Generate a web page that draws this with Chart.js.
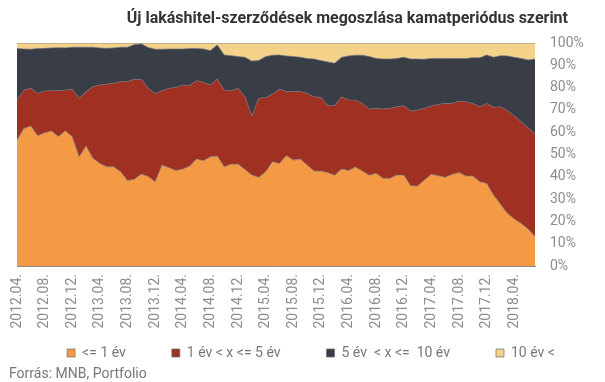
<!DOCTYPE html>
<html>
<head>
<meta charset="utf-8">
<script src="https://cdn.jsdelivr.net/npm/chart.js@4"></script>
<style>
  html, body { margin: 0; padding: 0; background: #fff; }
  #wrap { position: relative; width: 605px; height: 382px; }
  #title { position: absolute; right: 37px; top: 7px; font: bold 16px Roboto, sans-serif; line-height: 22px; color: #333; white-space: nowrap; }
  #source { position: absolute; left: 9px; top: 365px; font: 14px Roboto, sans-serif; line-height: 16px; color: #777; white-space: nowrap; }
</style>
</head>
<body>
<div id="wrap">
  <canvas id="c" width="605" height="382"></canvas>
  <div id="title">Új lakáshitel-szerződések megoszlása kamatperiódus szerint</div>
  <div id="source">Forrás: MNB, Portfolio</div>
</div>
<script>
const months = [
  "2012.04.","2012.05.","2012.06.","2012.07.","2012.08.","2012.09.","2012.10.","2012.11.","2012.12.",
  "2013.01.","2013.02.","2013.03.","2013.04.","2013.05.","2013.06.","2013.07.","2013.08.","2013.09.","2013.10.","2013.11.","2013.12.",
  "2014.01.","2014.02.","2014.03.","2014.04.","2014.05.","2014.06.","2014.07.","2014.08.","2014.09.","2014.10.","2014.11.","2014.12.",
  "2015.01.","2015.02.","2015.03.","2015.04.","2015.05.","2015.06.","2015.07.","2015.08.","2015.09.","2015.10.","2015.11.","2015.12.",
  "2016.01.","2016.02.","2016.03.","2016.04.","2016.05.","2016.06.","2016.07.","2016.08.","2016.09.","2016.10.","2016.11.","2016.12.",
  "2017.01.","2017.02.","2017.03.","2017.04.","2017.05.","2017.06.","2017.07.","2017.08.","2017.09.","2017.10.","2017.11.","2017.12.",
  "2018.01.","2018.02.","2018.03.","2018.04.","2018.05.","2018.06.","2018.07."
];

const seriesNames = ["<= 1 év", "1 év < x <= 5 év", "5 év  < x <=  10 év", "10 év <"];

const upTo1 = [
  56.5,61.7,62.8,58.4,59.8,60.5,58.0,60.7,58.0,49.0,53.8,48.3,46.0,44.5,44.5,42.3,38.3,38.9,41.3,40.1,
  37.8,45.3,44.1,42.8,43.5,44.8,48.0,47.2,49.0,49.3,44.5,45.7,45.7,43.3,40.8,39.8,42.3,46.8,46.0,
  49.5,47.5,48.0,45.3,42.6,42.6,41.9,40.7,43.5,42.8,44.4,42.6,40.7,41.6,39.3,39.3,40.8,40.8,
  36.0,35.9,38.6,41.1,40.5,39.8,41.1,41.9,40.4,40.4,37.8,37.1,31.8,27.7,23.6,21.1,19.1,16.6,13.2
];
const from1to5 = [
  17.9,17.2,16.9,19.0,18.7,18.1,20.6,18.2,21.2,26.2,24.4,32.1,35.2,37.1,37.4,40.4,44.4,44.8,42.4,39.6,
  39.6,33.3,35.6,37.3,37.7,36.1,35.1,35.2,32.2,34.6,34.4,32.9,34.0,32.6,26.5,35.4,33.3,30.3,33.4,
  28.7,30.7,30.2,32.1,33.3,33.0,30.0,31.2,32.4,31.6,30.0,30.3,29.6,29.1,31.1,31.4,30.6,31.1,
  33.5,34.1,32.1,30.6,32.0,33.1,31.8,32.1,33.3,32.5,33.6,35.8,39.4,43.7,46.1,46.2,45.6,45.4,46.0
];
const from5to10 = [
  23.1,18.4,17.5,20.1,19.1,19.2,19.3,18.9,18.9,22.9,19.9,17.7,16.6,16.0,15.9,15.4,15.4,15.6,15.9,18.3,
  19.8,18.6,17.6,17.2,16.1,16.6,14.4,14.9,15.4,15.2,15.7,15.7,14.2,17.7,24.6,16.9,18.3,17.4,15.2,
  16.0,15.7,15.4,15.7,16.9,16.5,19.6,19.0,17.7,19.8,20.1,21.6,23.6,22.4,22.4,22.1,21.7,21.7,
  23.3,22.8,22.0,21.4,20.6,20.2,20.1,19.0,19.4,20.5,22.0,21.7,22.4,22.9,24.5,26.3,28.4,30.4,33.6
];
const over10 = [
  2.5,2.7,2.8,2.5,2.4,2.2,2.1,2.2,1.9,1.9,1.9,1.9,2.2,2.4,2.2,1.9,1.9,0.7,0.4,2.0,
  2.8,2.8,2.7,2.7,2.7,2.5,2.5,2.7,3.4,0.9,5.4,5.7,6.1,6.4,8.1,7.9,6.1,5.5,5.4,
  5.8,6.1,6.4,6.9,7.2,7.9,8.5,9.1,6.4,5.8,5.5,5.5,6.1,6.9,7.2,7.2,6.9,6.4,
  7.2,7.2,7.3,6.9,6.9,6.9,7.0,7.0,6.9,6.6,6.6,5.4,6.4,5.7,5.8,6.4,6.9,7.6,7.2
];

const yTicks = [0,10,20,30,40,50,60,70,80,90,100];

const colors = ["#F59A44", "#A03022", "#383D46", "#F5D28A"];
const lineColor = "rgba(110,110,120,0.7)";

const seriesData = [upTo1, from1to5, from5to10, over10];

new Chart(document.getElementById("c"), {
  type: "line",
  data: {
    labels: months,
    datasets: seriesData.map((d, i) => ({
      label: seriesNames[i],
      data: d,
      backgroundColor: colors[i],
      borderColor: lineColor,
      borderWidth: 1,
      fill: i === 0 ? "origin" : "-1",
      pointRadius: 0,
      tension: 0
    }))
  },
  options: {
    responsive: false,
    animation: false,
    events: [],
    layout: { padding: { top: 43, left: 17, right: 0, bottom: 12 } },
    plugins: {
      legend: {
        position: "bottom",
        labels: {
          boxWidth: 8,
          boxHeight: 8,
          padding: 46,
          color: "#777",
          font: { family: "Roboto", size: 14 }
        }
      },
      tooltip: { enabled: false },
      title: { display: false }
    },
    scales: {
      x: {
        offset: false,
        grid: { display: false, drawTicks: false },
        border: { display: true, color: "#8c8c8c", width: 1 },
        ticks: {
          autoSkip: false,
          minRotation: 90,
          maxRotation: 90,
          padding: 8,
          color: "#8c8c8c",
          font: { family: "Roboto", size: 14 },
          callback: function(v, idx) { return idx % 4 === 0 ? months[idx] : ""; }
        },
        afterFit: function(s) {
          s.height = 34;
          s._computeLabelArea = function() { return undefined; };
        }
      },
      y: {
        position: "right",
        stacked: true,
        min: 0,
        max: 100,
        grid: { display: false, drawTicks: false },
        border: { display: false },
        afterBuildTicks: function(s) { s.ticks = yTicks.map(v => ({ value: v })); },
        ticks: {
          padding: 15,
          color: "#8c8c8c",
          font: { family: "Roboto", size: 14 },
          callback: function(v) { return v + "%"; }
        },
        afterFit: function(s) { s.width = 70; }
      }
    }
  }
});
</script>
</body>
</html>
